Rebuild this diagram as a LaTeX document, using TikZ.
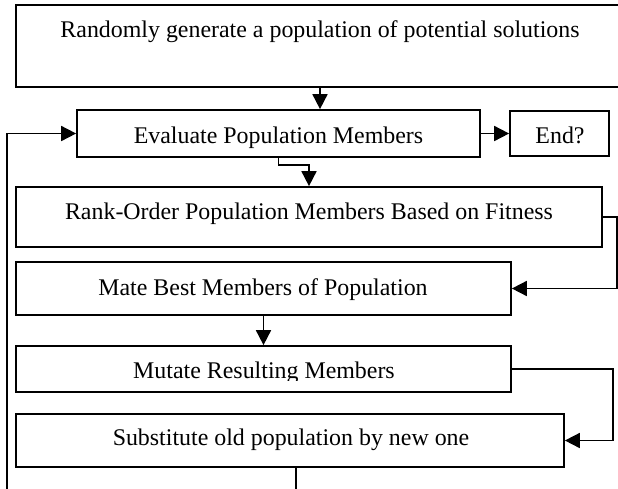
\documentclass[tikz,border=0pt]{standalone}
\usepackage{fontspec}
\setmainfont{Liberation Serif}
\usetikzlibrary{arrows.meta,calc}
\begin{document}
\begin{tikzpicture}[x=1pt,y=-1pt,
  box/.style={draw=black,line width=1.7pt,rectangle,inner sep=0pt,fill=white},
  lbl/.style={anchor=base,inner sep=0pt,font=\fontsize{23.9}{28}\selectfont},
  conn/.style={draw=black,line width=1.7pt},
  arr/.style={conn,-{Triangle[length=15pt,width=15pt]}}]
\useasboundingbox (0,0) rectangle (618,488);
% boxes
\node[box,minimum width=605pt,minimum height=82pt] (b1) at (318.5,46) {};
\node[box,minimum width=403pt,minimum height=47pt] (eval) at (278.5,133.5) {};
\node[box,minimum width=99pt,minimum height=45pt] (end) at (559.5,133.5) {};
\node[box,minimum width=586pt,minimum height=60pt] (rank) at (309,217) {};
\node[box,minimum width=495pt,minimum height=53pt] (mate) at (263.5,288.5) {};
\node[box,minimum width=495pt,minimum height=46pt] (mutate) at (263.5,369) {};
\node[box,minimum width=548pt,minimum height=53pt] (subst) at (290,440.5) {};
% texts
\node[lbl] (t1) at (320,37) {Randomly generate a population of potential solutions};
\node[lbl] (t2) at (278.5,143) {Evaluate Population Members};
\node[lbl] (t3) at (560,143) {End?};
\node[lbl] (t4) at (309,219) {Rank-Order Population Members Based on Fitness};
\node[lbl] (t5) at (263,295) {Mate Best Members of Population};
\begin{scope}
\clip (16,346) rectangle (511,380.5);
\node[lbl] (t6) at (264,378) {Mutate Resulting Members};
\end{scope}
\node[lbl] (t7) at (291,445) {Substitute old population by new one};
% helper coordinates
\coordinate (c1) at (320,0);
\coordinate (c3) at (296,500);
\coordinate (c4) at (7,500);
% connectors
\draw[arr] (c1 |- b1.south) -- (c1 |- eval.north);
\draw[arr] (eval.east) -- (end.west);
\draw[arr] (eval.south) -- ++(0,7) -| (rank.north);
\draw[arr] (rank.east) -- ++(14,0) |- (mate.east);
\draw[arr] (mate.south) -- (mutate.north);
\draw[arr] (mutate.east) -- ++(101,0) |- (subst.east);
\draw[arr] (c3 |- subst.south) -- (c3) -- (c4) |- (eval.west);
\end{tikzpicture}
\end{document}
